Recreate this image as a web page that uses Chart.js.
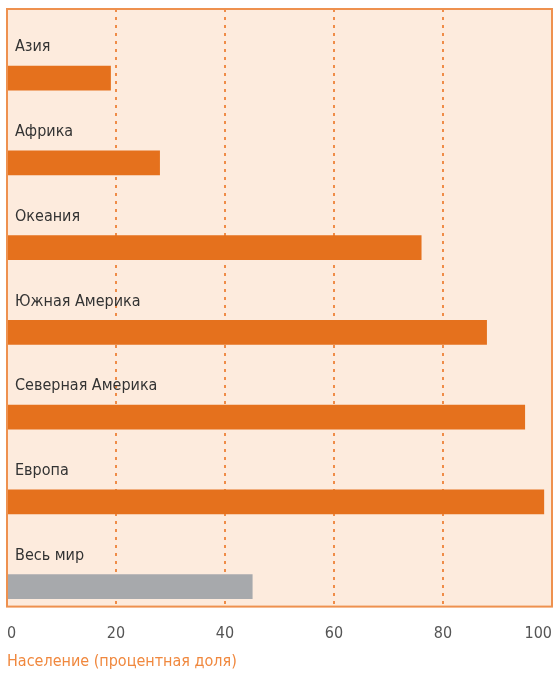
<!DOCTYPE html>
<html>
<head>
<meta charset="utf-8">
<script src="https://cdn.jsdelivr.net/npm/chart.js@4"></script>
<style>
  body { margin: 0; background: #fff; }
  #wrap { width: 557px; height: 673px; }
</style>
</head>
<body>
<div id="wrap"><canvas id="chart"></canvas></div>
<script>
const regions = ['Азия', 'Африка', 'Океания', 'Южная Америка', 'Северная Америка', 'Европа', 'Весь мир'];
const shares = [19, 28, 76, 88, 95, 98.5, 45];
const barColors = ['#e5711d', '#e5711d', '#e5711d', '#e5711d', '#e5711d', '#e5711d', '#a7a9ac'];
const xTicks = [0, 20, 40, 60, 80, 100];
const axisTitle = 'Население (процентная доля)';

const FONT = "'Liberation Sans Narrow', 'DejaVu Sans Condensed', sans-serif";

// peach panel with an orange frame behind the bars
const panel = {
  id: 'panel',
  beforeDraw(c) {
    const a = c.chartArea, ctx = c.ctx;
    ctx.save();
    ctx.fillStyle = '#fdebdd';
    ctx.fillRect(a.left, a.top, a.right - a.left, a.bottom - a.top);
    ctx.restore();
  },
  afterDraw(c) {
    const a = c.chartArea, ctx = c.ctx;
    ctx.save();
    ctx.strokeStyle = '#ee914f';
    ctx.lineWidth = 2;
    ctx.strokeRect(a.left, a.top, a.right - a.left, a.bottom - a.top);
    ctx.restore();
  }
};

new Chart(document.getElementById('chart'), {
  type: 'bar',
  data: {
    datasets: [{
      data: shares.map((v, i) => ({ x: v, y: i })),
      backgroundColor: barColors,
      barThickness: 24
    }]
  },
  options: {
    indexAxis: 'y',
    responsive: true,
    maintainAspectRatio: false,
    animation: false,
    layout: { padding: { left: 7, top: 9, right: 5, bottom: 2 } },
    plugins: { legend: { display: false }, tooltip: { enabled: false } },
    scales: {
      x: {
        type: 'linear',
        min: 0,
        max: 100,
        afterBuildTicks: s => { s.ticks = xTicks.map(v => ({ value: v })); },
        afterFit: s => { s.paddingLeft = 0; s.paddingRight = 0; },
        grid: { color: '#ef8c48', lineWidth: 2, drawTicks: false },
        border: { display: false, dash: [3, 5] },
        ticks: { align: 'inner', padding: 18, color: '#555', font: { family: FONT, size: 16 } },
        title: {
          display: true,
          text: axisTitle,
          align: 'start',
          color: '#f0883e',
          padding: { top: -10, bottom: 0 },
          font: { family: FONT, size: 16 }
        }
      },
      y: {
        type: 'linear',
        reverse: true,
        offset: false,
        min: -0.815,
        max: 6.235,
        grid: { display: false, drawTicks: false },
        border: { display: false },
        afterFit: s => { s.width = 0; s.paddingTop = 0; s.paddingBottom = 0; },
        ticks: {
          stepSize: 1,
          includeBounds: false,
          mirror: true,
          padding: 8,
          labelOffset: -31,
          color: '#333',
          font: { family: FONT, size: 16 },
          callback: v => Number.isInteger(v) ? (regions[v] || '') : ''
        }
      }
    }
  },
  plugins: [panel]
});
</script>
</body>
</html>
